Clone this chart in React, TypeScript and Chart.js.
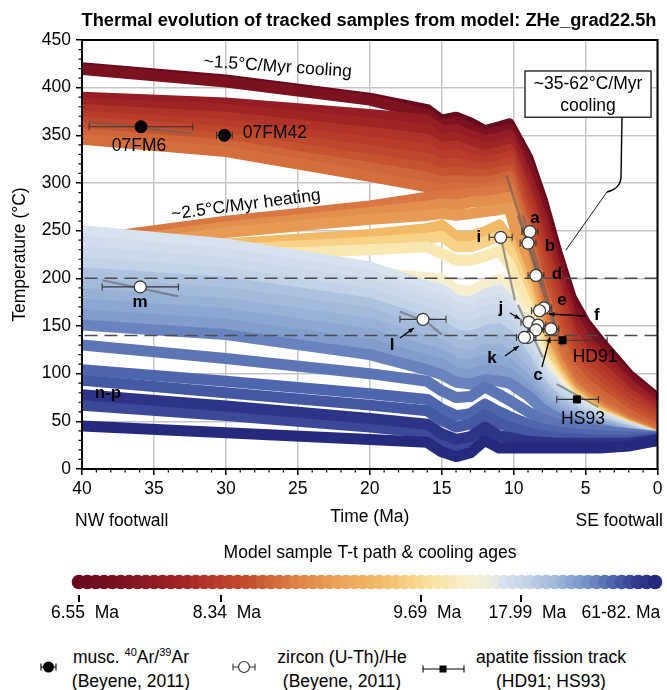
import React, { useEffect, useRef, useState } from 'react';
import { Chart, registerables } from 'chart.js';

Chart.register(...registerables);

const FONT_FAMILY = '"Liberation Sans", Arial, Helvetica, sans-serif';
const FS = 17.5;
const GRID_COLOR = '#c6c6c6';

// ---------- axes ----------
const X_MAX = 40;
const Y_MAX = 450;
const X_LABEL_STEP = 5;
const Y_LABEL_STEP = 50;
const X_MINOR_STEP = 1;
const Y_MINOR_STEP = 10;
const DASH_LEVELS = [200, 140];

// ---------- model T-t paths (°C at TIMES, Ma) ----------
const TIMES = [40, 30, 20, 16, 15, 14, 13, 12, 11, 10.3, 9, 8, 7, 6, 5, 4, 2, 0];

const PATH_T0 = [421, 408, 389, 377, 366, 369, 363, 355, 359, 362, 326, 282, 228, 180, 153, 134, 99, 74];
const PATH_T1 = [419, 406, 387, 372, 362, 364, 358, 351, 354, 357, 318, 272, 220, 172, 147, 129, 96, 71];
const PATH_U1 = [390, 384, 372, 366, 355, 356, 350, 345, 347, 350, 305, 262, 207, 161, 137, 120, 89, 66];
const PATH_U2 = [384, 377, 363, 356, 346, 348, 342, 337, 339, 342, 295, 250, 197, 152, 130, 113, 84, 62];
const PATH_U3 = [377, 369, 353, 346, 337, 339, 333, 329, 332, 335, 285, 238, 187, 143, 122, 106, 79, 58];
const PATH_U4 = [370, 361, 343, 336, 328, 330, 325, 322, 325, 328, 275, 226, 176, 134, 114, 99, 73, 54];
const PATH_U5 = [364, 354, 334, 326, 319, 321, 317, 315, 318, 321, 265, 214, 165, 125, 106, 92, 67, 50];
const PATH_U6 = [358, 347, 325, 316, 310, 312, 309, 308, 311, 314, 255, 202, 154, 116, 98, 85, 62, 46];
const PATH_U7 = [352, 340, 316, 306, 301, 303, 301, 301, 304, 307, 245, 188, 142, 107, 90, 78, 57, 42];
const PATH_U8 = [346, 333, 307, 296, 293, 295, 294, 294, 297, 300, 235, 174, 130, 98, 83, 71, 52, 38];
const PATH_H1 = [240, 260, 276, 285, 287, 287, 289, 290, 292, 294, 222, 160, 120, 92, 78, 67, 50, 37];
const PATH_H2 = [234, 254, 269, 276, 278, 277, 280, 281, 283, 285, 212, 151, 114, 88, 75, 64, 48, 36];
const PATH_H3 = [228, 248, 262, 266, 268, 266, 268, 270, 272, 274, 202, 142, 108, 84, 72, 61, 46, 35];
const PATH_Y1 = [226, 236, 246, 252, 256, 244, 244, 249, 256, 240, 190, 134, 104, 82, 70, 60, 46, 34];
const PATH_Y2 = [222, 230, 238, 242, 244, 233, 233, 238, 245, 230, 180, 126, 99, 79, 68, 58, 45, 34];
const PATH_Y3 = [218, 224, 230, 233, 226, 219, 219, 223, 229, 215, 170, 118, 95, 76, 66, 56, 44, 33];
const PATH_C1 = [228, 218, 206, 201, 199, 188, 186, 194, 199, 192, 158, 113, 92, 75, 64, 56, 44, 33];
const PATH_C2 = [222, 212, 200, 195, 193, 182, 180, 188, 193, 183, 148, 108, 89, 73, 63, 55, 43, 33];
const PATH_LB1 = [250, 236, 212, 192, 188, 177, 175, 183, 188, 176, 138, 104, 87, 74, 63, 55, 44, 34];
const PATH_LB2 = [239, 226, 203, 183, 179, 169, 167, 174, 178, 168, 132, 100, 84, 72, 61, 54, 43, 33];
const PATH_LB3 = [228, 216, 194, 174, 170, 160, 158, 165, 168, 159, 126, 96, 81, 69, 59, 52, 42, 33];
const PATH_LB4 = [217, 206, 184, 164, 160, 151, 149, 155, 158, 150, 119, 92, 77, 66, 57, 51, 41, 32];
const PATH_LB5 = [206, 196, 174, 154, 150, 141, 139, 145, 147, 140, 112, 88, 73, 63, 55, 49, 40, 32];
const PATH_LB6 = [195, 185, 164, 144, 140, 131, 129, 135, 136, 130, 105, 83, 69, 60, 53, 48, 39, 31];
const PATH_LB7 = [184, 174, 153, 134, 130, 121, 119, 125, 125, 120, 98, 78, 65, 57, 51, 46, 38, 31];
const PATH_LB8 = [173, 163, 142, 124, 120, 111, 109, 114, 114, 110, 91, 73, 61, 54, 49, 45, 37, 30];
const PATH_LB9 = [162, 152, 131, 114, 110, 101, 99, 104, 103, 100, 84, 68, 57, 51, 47, 43, 36, 30];
const PATH_LB10 = [151, 141, 120, 104, 99, 91, 89, 94, 92, 90, 77, 63, 54, 49, 45, 42, 35, 29];
const PATH_D1 = [130, 116, 100, 92, 82, 75, 76, 86, 78, 72, 60, 52, 47, 44, 42, 40, 37, 34];
const PATH_D2 = [104, 92, 79, 73, 63, 56, 58, 68, 60, 55, 47, 42, 39, 37, 36, 35, 33, 33];
const PATH_D3 = [93, 80, 67, 61, 51, 44, 47, 57, 48, 44, 38, 35, 33, 32, 31, 30, 30, 32];
const PATH_D4 = [78, 66, 53, 47, 37, 31, 34, 44, 35, 33, 29, 28, 27, 27, 27, 27, 27, 31];
const PATH_D5 = [67, 56, 44, 38, 28, 22, 25, 36, 27, 26, 24, 24, 23, 23, 23, 23, 25, 30];
const PATH_D6 = [45, 38, 31, 28, 18, 13, 17, 30, 22, 22, 22, 22, 22, 22, 22, 22, 24, 30];

// [temperatures, sample index on the colour bar]
const PATH_LIST: [number[], number][] = [
  [PATH_T0, 0], [PATH_T1, 5], [PATH_U1, 10], [PATH_U2, 12], [PATH_U3, 15], [PATH_U4, 17],
  [PATH_U5, 19], [PATH_U6, 21], [PATH_U7, 23], [PATH_U8, 24], [PATH_H1, 25], [PATH_H2, 28],
  [PATH_H3, 30], [PATH_Y1, 36], [PATH_Y2, 40], [PATH_Y3, 44], [PATH_C1, 46], [PATH_C2, 48],
  [PATH_LB1, 51], [PATH_LB2, 52], [PATH_LB3, 53], [PATH_LB4, 54], [PATH_LB5, 56], [PATH_LB6, 57],
  [PATH_LB7, 58], [PATH_LB8, 59], [PATH_LB9, 60], [PATH_LB10, 62],
  [PATH_D1, 63], [PATH_D2, 64], [PATH_D3, 65], [PATH_D4, 68], [PATH_D5, 66], [PATH_D6, 69],
];

// ---------- colour bar ----------
const SAMPLE_COUNT = 70;
const CB_TICK_POS = [0, 17, 41, 53, 64.2];
const CB_TICK_TEXT = ['6.55  Ma', '8.34  Ma', '9.69  Ma', '17.99  Ma', '61-82. Ma'];
const CB_MARK_POS = [0, 17, 41, 53];
const CMAP_POS = [0, 0.08, 0.16, 0.22, 0.3, 0.38, 0.45, 0.52, 0.58, 0.62, 0.68, 0.72, 0.735, 0.78, 0.83, 0.88, 0.93, 0.97, 1];
const CMAP_HEX = ['#680a1e', '#7e1220', '#9a2024', '#b03428', '#c4502f', '#de8246', '#eaa258', '#f2b866', '#f8d286', '#fbe4a6', '#f7f0cf', '#eeeedf', '#dae4f0', '#c4d4e8', '#a0b8da', '#7896c8', '#4c64ac', '#343c90', '#262a7c'];

// ---------- thermochronology data ----------
// zircon (U-Th)/He
const ZR_AGE = [8.87, 9.0, 8.45, 7.9, 8.2, 10.9, 8.94, 8.31, 8.45, 7.41, 9.0, 9.25, 16.3, 35.95];
const ZR_TEMP = [249, 237, 203, 169, 166, 243, 154, 151, 146, 147, 138, 138, 157, 191];
const ZR_ERR = [0.55, 0.55, 0.55, 0.55, 0.55, 0.8, 0.55, 0.55, 0.55, 0.55, 0.55, 0.55, 1.6, 2.65];
// muscovite Ar/Ar
const AR_AGE = [35.9, 30.1];
const AR_TEMP = [359, 350];
const AR_ERR = [3.6, 0.55];
// apatite fission track
const AFT_AGE = [6.6, 5.6];
const AFT_TEMP = [135, 73];
const AFT_MIN = [3.5, 4.1];
const AFT_MAX = [9.35, 7.0];

// grey model-path segments near the samples
const SEG_07FM6 = [[39.6, 364], [32.4, 352]];
const SEG_M = [[38.6, 198], [33.3, 181]];
const SEG_L = [[17.9, 165], [16.0, 154], [15.0, 141]];
const SEG_I = [[10.9, 243], [9.9, 177]];
const SEG_A = [[10.5, 308], [8.0, 190]];
const SEG_B = [[9.7, 266], [7.0, 143]];
const SEG_C = [[9.35, 266], [6.65, 128]];
const SEG_K = [[9.7, 172], [7.96, 117]];
const SEG_HS93 = [[7.0, 89], [4.1, 65]];
const GREY_SEGMENTS = [SEG_07FM6, SEG_M, SEG_L, SEG_I, SEG_A, SEG_B, SEG_C, SEG_K, SEG_HS93];

// ---------- annotation labels ----------
const BOLD_LABELS = ['a', 'b', 'd', 'e', 'f', 'i', 'j', 'k', 'c', 'l', 'm', 'n-p'];
const BOLD_LABEL_T = [8.51, 7.47, 6.99, 6.64, 4.21, 12.41, 10.88, 11.5, 8.31, 18.45, 35.97, 38.2];
const BOLD_LABEL_TEMP = [263.3, 233.9, 204.5, 177.3, 161.5, 243.4, 168.9, 116.4, 98.6, 130.1, 175.2, 79.7];
const NAME_LABELS = ['07FM6', '07FM42', 'HD91', 'HS93'];
const NAME_LABEL_T = [36.04, 26.59, 4.34, 5.18];
const NAME_LABEL_TEMP = [338.8, 352.5, 117.5, 52.4];
const ARROWS = [
  [5.04, 160.5, 7.54, 162.6],
  [10.25, 163.6, 9.56, 157.3],
  [10.6, 118.5, 9.63, 129],
  [8.03, 107, 7.47, 138.5],
  [17.9, 137.4, 16.93, 147.9],
];

const TITLE = 'Thermal evolution of tracked samples from model: ZHe_grad22.5h';

function hexToRgb(h: string) {
  const n = parseInt(h.slice(1), 16);
  return [(n >> 16) & 255, (n >> 8) & 255, n & 255];
}
function cmap(f: number) {
  for (let i = 1; i < CMAP_POS.length; i++) {
    if (f <= CMAP_POS[i] + 1e-9) {
      const u = (f - CMAP_POS[i - 1]) / (CMAP_POS[i] - CMAP_POS[i - 1]);
      const c0 = hexToRgb(CMAP_HEX[i - 1]);
      const c1 = hexToRgb(CMAP_HEX[i]);
      return 'rgb(' + c0.map((c, k) => Math.round(c + (c1[k] - c) * u)).join(',') + ')';
    }
  }
  return CMAP_HEX[CMAP_HEX.length - 1];
}
const SAMPLE_IDX = Array.from({ length: SAMPLE_COUNT }, (_, i) => i);
const SAMPLE_COLORS = SAMPLE_IDX.map((i) => cmap(i / (SAMPLE_COUNT - 1)));

const font = (size: number, bold = false) => `${bold ? 'bold ' : ''}${size}px ${FONT_FAMILY}`;

const mainDecor = {
  id: 'mainDecor',
  afterDraw(chart: any) {
    const { ctx, chartArea: a } = chart;
    const xs = chart.scales.x;
    const ys = chart.scales.y;
    const P = (t: number, T: number) => [xs.getPixelForValue(t), ys.getPixelForValue(T)];
    ctx.save();
    // minor ticks
    ctx.strokeStyle = '#000';
    ctx.lineWidth = 1.2;
    ctx.beginPath();
    for (let v = 0; v <= Y_MAX; v += Y_MINOR_STEP) {
      if (v % Y_LABEL_STEP === 0) continue;
      const py = ys.getPixelForValue(v);
      ctx.moveTo(a.left - 3.5, py);
      ctx.lineTo(a.left, py);
    }
    for (let v = 0; v <= X_MAX; v += X_MINOR_STEP) {
      if (v % X_LABEL_STEP === 0) continue;
      const px = xs.getPixelForValue(v);
      ctx.moveTo(px, a.bottom);
      ctx.lineTo(px, a.bottom + 3.5);
    }
    ctx.stroke();
    // frame
    ctx.lineWidth = 2;
    ctx.strokeRect(a.left, a.top, a.right - a.left, a.bottom - a.top);

    ctx.fillStyle = '#000';
    ctx.textAlign = 'center';
    ctx.textBaseline = 'middle';
    // title & axis titles
    ctx.font = font(18.3, true);
    ctx.fillText(TITLE, 369, 21);
    ctx.font = font(FS);
    ctx.save();
    ctx.translate(20, (a.top + a.bottom) / 2);
    ctx.rotate(-Math.PI / 2);
    ctx.fillText('Temperature (°C)', 0, 0);
    ctx.restore();
    ctx.fillText('Time (Ma)', (a.left + a.right) / 2, 517);
    ctx.textAlign = 'left';
    ctx.fillText('NW footwall', 75, 521);
    ctx.textAlign = 'right';
    ctx.fillText('SE footwall', 663, 521);

    // rotated band annotations
    const rot = (s: string, t: number, T: number, deg: number) => {
      const [px, py] = P(t, T);
      ctx.save();
      ctx.translate(px, py);
      ctx.rotate((deg * Math.PI) / 180);
      ctx.textAlign = 'center';
      ctx.textBaseline = 'middle';
      ctx.font = font(FS);
      ctx.fillText(s, 0, 0);
      ctx.restore();
    };
    rot('~1.5°C/Myr cooling', 26.4, 421.7, 4);
    rot('~2.5°C/Myr heating', 28.6, 277, -7.5);

    // boxed annotation + connector
    const [bx0, by0] = P(9.21, 417.5);
    const [bx1, by1] = P(0.45, 369);
    ctx.fillStyle = '#fff';
    ctx.fillRect(bx0, by0, bx1 - bx0, by1 - by0);
    ctx.strokeStyle = '#000';
    ctx.lineWidth = 1.2;
    ctx.strokeRect(bx0, by0, bx1 - bx0, by1 - by0);
    ctx.fillStyle = '#000';
    ctx.textAlign = 'center';
    ctx.font = font(FS);
    const [tcx] = P(4.83, 0);
    ctx.fillText('~35-62°C/Myr', tcx, P(0, 404)[1]);
    ctx.fillText('cooling', tcx, P(0, 381)[1]);
    const c0 = P(2.467, 369.2);
    const c1 = P(2.537, 305.2);
    const c2 = P(2.606, 293.7);
    const c3 = P(3.51, 290.6);
    const c4 = P(6.36, 229.7);
    ctx.lineWidth = 1.4;
    ctx.beginPath();
    ctx.moveTo(c0[0], c0[1]);
    ctx.lineTo(c1[0], c1[1]);
    ctx.quadraticCurveTo(c2[0], c2[1], c3[0], c3[1]);
    ctx.stroke();
    ctx.lineWidth = 0.9;
    ctx.beginPath();
    ctx.moveTo(c3[0], c3[1]);
    ctx.lineTo(c4[0], c4[1]);
    ctx.stroke();

    // arrows
    ctx.lineWidth = 1.3;
    for (const [t0, T0, t1, T1] of ARROWS) {
      const [x0, y0] = P(t0, T0);
      const [x1, y1] = P(t1, T1);
      ctx.beginPath();
      ctx.moveTo(x0, y0);
      ctx.lineTo(x1, y1);
      ctx.stroke();
      const ang = Math.atan2(y1 - y0, x1 - x0);
      const hl = 6;
      ctx.beginPath();
      ctx.moveTo(x1, y1);
      ctx.lineTo(x1 - hl * Math.cos(ang - 0.4), y1 - hl * Math.sin(ang - 0.4));
      ctx.lineTo(x1 - hl * Math.cos(ang + 0.4), y1 - hl * Math.sin(ang + 0.4));
      ctx.closePath();
      ctx.fill();
    }

    // labels
    ctx.textAlign = 'center';
    ctx.textBaseline = 'middle';
    ctx.font = font(17, true);
    BOLD_LABELS.forEach((s, i) => {
      const [px, py] = P(BOLD_LABEL_T[i], BOLD_LABEL_TEMP[i]);
      ctx.fillText(s, px, py);
    });
    ctx.font = font(FS);
    NAME_LABELS.forEach((s, i) => {
      const [px, py] = P(NAME_LABEL_T[i], NAME_LABEL_TEMP[i]);
      ctx.fillText(s, px, py);
    });
    ctx.restore();
  },
};

const cbDecor = {
  id: 'cbDecor',
  afterDraw(chart: any) {
    const { ctx, chartArea: a } = chart;
    const xs = chart.scales.x;
    ctx.save();
    ctx.fillStyle = '#000';
    CB_MARK_POS.forEach((v) => {
      const px = Math.round(xs.getPixelForValue(v));
      ctx.fillRect(px - 1, a.bottom, 1.6, 7);
    });
    ctx.textAlign = 'center';
    ctx.textBaseline = 'middle';
    ctx.font = font(FS);
    ctx.fillText('Model sample T-t path & cooling ages', 370, 23);
    ctx.restore();
  },
};

function errorBarDataset(lo: number, hi: number, y: number) {
  return {
    type: 'line',
    data: [{ x: lo, y }, { x: hi, y }],
    borderColor: '#333',
    borderWidth: 1.1,
    pointStyle: 'line',
    pointRotation: 90,
    pointRadius: 3.5,
    pointHoverRadius: 3.5,
    pointBorderColor: '#333',
    pointBorderWidth: 1.1,
    order: -2,
    clip: false,
  };
}

function buildMainConfig(): any {
  const datasets: any[] = [];
  // markers
  datasets.push({
    type: 'line', showLine: false,
    data: ZR_AGE.map((t, i) => ({ x: t, y: ZR_TEMP[i] })),
    pointStyle: 'circle', pointRadius: 6, pointHoverRadius: 6,
    pointBackgroundColor: '#fff', pointBorderColor: '#333', pointBorderWidth: 1.2,
    order: -3, clip: false,
  });
  datasets.push({
    type: 'line', showLine: false,
    data: AR_AGE.map((t, i) => ({ x: t, y: AR_TEMP[i] })),
    pointStyle: 'circle', pointRadius: 6, pointHoverRadius: 6,
    pointBackgroundColor: '#000', pointBorderColor: '#000', pointBorderWidth: 1,
    order: -3, clip: false,
  });
  datasets.push({
    type: 'line', showLine: false,
    data: AFT_AGE.map((t, i) => ({ x: t, y: AFT_TEMP[i] })),
    pointStyle: 'rect', pointRadius: 5, pointHoverRadius: 5,
    pointBackgroundColor: '#000', pointBorderColor: '#000', pointBorderWidth: 1,
    order: -3, clip: false,
  });
  // error bars
  ZR_AGE.forEach((t, i) => datasets.push(errorBarDataset(t - ZR_ERR[i], t + ZR_ERR[i], ZR_TEMP[i])));
  AR_AGE.forEach((t, i) => datasets.push(errorBarDataset(t - AR_ERR[i], t + AR_ERR[i], AR_TEMP[i])));
  AFT_AGE.forEach((_, i) => datasets.push(errorBarDataset(AFT_MIN[i], AFT_MAX[i], AFT_TEMP[i])));
  // dashed reference levels
  DASH_LEVELS.forEach((lvl) => datasets.push({
    type: 'line',
    data: [{ x: 0, y: lvl }, { x: X_MAX, y: lvl }],
    borderColor: '#4a4a4a', borderWidth: 1.5, borderDash: [13, 7],
    pointRadius: 0, pointHoverRadius: 0, order: -1, clip: 0,
  }));
  // grey model segments
  GREY_SEGMENTS.forEach((seg) => datasets.push({
    type: 'line',
    data: seg.map(([t, T]) => ({ x: t, y: T })),
    borderColor: 'rgba(95,95,95,0.6)', borderWidth: 2.2,
    pointRadius: 0, pointHoverRadius: 0, tension: 0, order: -0.5, clip: 0,
  }));
  // model paths
  PATH_LIST.forEach(([temps, sample]) => datasets.push({
    type: 'line',
    data: TIMES.map((t, i) => ({ x: t, y: temps[i] })),
    borderColor: SAMPLE_COLORS[sample],
    borderWidth: 11,
    pointRadius: 0,
    pointHoverRadius: 0,
    tension: 0,
    borderJoinStyle: 'round',
    borderCapStyle: 'butt',
    clip: 0,
    order: 100 - sample,
  }));

  const xTicks: number[] = [];
  for (let v = 0; v <= X_MAX; v += X_MINOR_STEP) xTicks.push(v);
  const yTicks: number[] = [];
  for (let v = 0; v <= Y_MAX; v += Y_MINOR_STEP) yTicks.push(v);

  return {
    type: 'line',
    data: { datasets },
    options: {
      animation: false,
      responsive: false,
      maintainAspectRatio: false,
      events: [],
      layout: { padding: { left: 0, right: 9.5, top: 40, bottom: 0 }, autoPadding: false },
      plugins: { legend: { display: false }, tooltip: { enabled: false }, title: { display: false } },
      scales: {
        x: {
          type: 'linear', min: 0, max: X_MAX, reverse: true,
          afterBuildTicks: (s: any) => { s.ticks = xTicks.map((v) => ({ value: v })); },
          afterFit: (s: any) => { s.height = 66; },
          ticks: {
            autoSkip: false, maxRotation: 0, minRotation: 0, padding: 4,
            font: { size: FS, family: FONT_FAMILY }, color: '#000',
            callback: (v: any) => (Number(v) % X_LABEL_STEP === 0 ? String(v) : ''),
          },
          grid: {
            color: (c: any) => (c.tick && c.tick.value % X_LABEL_STEP === 0 ? GRID_COLOR : 'rgba(0,0,0,0)'),
            lineWidth: 1.5, tickLength: 6, tickWidth: 1.5,
            tickColor: (c: any) => (c.tick && c.tick.value % X_LABEL_STEP === 0 ? '#000' : 'rgba(0,0,0,0)'),
          },
          border: { display: true, color: '#000', width: 2 },
        },
        y: {
          type: 'linear', min: 0, max: Y_MAX,
          afterBuildTicks: (s: any) => { s.ticks = yTicks.map((v) => ({ value: v })); },
          afterFit: (s: any) => { s.width = 82; },
          ticks: {
            autoSkip: false, padding: 5,
            font: { size: FS, family: FONT_FAMILY }, color: '#000',
            callback: (v: any) => (Number(v) % Y_LABEL_STEP === 0 ? String(v) : ''),
          },
          grid: {
            color: (c: any) => (c.tick && c.tick.value % Y_LABEL_STEP === 0 ? GRID_COLOR : 'rgba(0,0,0,0)'),
            lineWidth: 1.5, tickLength: 6, tickWidth: 1.5,
            tickColor: (c: any) => (c.tick && c.tick.value % Y_LABEL_STEP === 0 ? '#000' : 'rgba(0,0,0,0)'),
          },
          border: { display: true, color: '#000', width: 2 },
        },
      },
    },
    plugins: [mainDecor],
  };
}

function buildCbConfig(): any {
  return {
    type: 'scatter',
    data: {
      datasets: [{
        data: SAMPLE_IDX.map((i) => ({ x: i, y: 0 })),
        pointRadius: 7.3,
        pointHoverRadius: 7.3,
        pointBackgroundColor: SAMPLE_COLORS,
        pointBorderWidth: 0,
        clip: false,
      }],
    },
    options: {
      animation: false,
      responsive: false,
      maintainAspectRatio: false,
      events: [],
      layout: { padding: { left: 79, right: 12, top: 39, bottom: 0 }, autoPadding: false },
      plugins: { legend: { display: false }, tooltip: { enabled: false } },
      scales: {
        x: {
          type: 'linear', min: 0, max: SAMPLE_COUNT - 1,
          afterBuildTicks: (s: any) => { s.ticks = CB_TICK_POS.map((v) => ({ value: v })); },
          afterFit: (s: any) => { s.height = 35; },
          ticks: {
            autoSkip: false, maxRotation: 0, padding: 3, labelOffset: 6,
            font: { size: FS, family: FONT_FAMILY }, color: '#000',
            callback: (_v: any, i: number) => CB_TICK_TEXT[i],
          },
          grid: { drawOnChartArea: false, tickLength: 5, color: 'rgba(0,0,0,0)' },
          border: { display: false },
        },
        y: { display: false, min: -1, max: 1 },
      },
    },
    plugins: [cbDecor],
  };
}

const legendText: React.CSSProperties = {
  position: 'absolute', top: 645, lineHeight: '24px', fontSize: FS,
  textAlign: 'center', color: '#000', whiteSpace: 'nowrap', fontFamily: FONT_FAMILY,
};
const sup: React.CSSProperties = { fontSize: 11, lineHeight: 0, verticalAlign: 'super' };

export default function App() {
  const mainRef = useRef<HTMLCanvasElement>(null);
  const cbRef = useRef<HTMLCanvasElement>(null);
  const [marks, setMarks] = useState<{ x: number; y: number }[]>([]);
  useEffect(() => {
    Chart.defaults.font.family = FONT_FAMILY;
    Chart.defaults.color = '#000';
    const main = new Chart(mainRef.current as HTMLCanvasElement, buildMainConfig());
    const cb = new Chart(cbRef.current as HTMLCanvasElement, buildCbConfig());
    const xs: any = cb.scales.x;
    const bottom = cb.chartArea ? cb.chartArea.bottom : 65;
    setMarks(CB_MARK_POS.map((v) => ({ x: Math.round(xs.getPixelForValue(v)), y: bottom })));
    return () => { main.destroy(); cb.destroy(); };
  }, []);
  return (
    <div style={{ position: 'absolute', left: 0, top: 0, width: 667, height: 690, background: '#fff', fontFamily: FONT_FAMILY, overflow: 'hidden' }}>
      <canvas ref={mainRef} width={667} height={535} style={{ position: 'absolute', left: 0, top: 0, width: 667, height: 535 }} />
      <canvas ref={cbRef} width={667} height={100} style={{ position: 'absolute', left: 0, top: 530, width: 667, height: 100, zIndex: 2 }} />
      {marks.map((m, i) => (
        <div key={i} style={{ position: 'absolute', left: m.x - 1, top: 530 + m.y, width: 1.6, height: 7, background: '#000', zIndex: 3 }} />
      ))}
      {/* legend */}
      <svg style={{ position: 'absolute', left: 36, top: 659 }} width={26} height={16}>
        <line x1={5} y1={8} x2={20} y2={8} stroke="#000" strokeWidth={1.1} />
        <line x1={5} y1={4.5} x2={5} y2={11.5} stroke="#000" strokeWidth={1.1} />
        <line x1={20} y1={4.5} x2={20} y2={11.5} stroke="#000" strokeWidth={1.1} />
        <circle cx={12.5} cy={8} r={5.5} fill="#000" />
      </svg>
      <div style={{ ...legendText, left: 51, width: 160 }}>
        musc. <span style={sup}>40</span>Ar/<span style={sup}>39</span>Ar<br />(Beyene, 2011)
      </div>
      <svg style={{ position: 'absolute', left: 229, top: 659 }} width={30} height={16}>
        <line x1={4} y1={8} x2={26} y2={8} stroke="#333" strokeWidth={1.1} />
        <line x1={4} y1={4.5} x2={4} y2={11.5} stroke="#333" strokeWidth={1.1} />
        <line x1={26} y1={4.5} x2={26} y2={11.5} stroke="#333" strokeWidth={1.1} />
        <circle cx={15} cy={8} r={5.5} fill="#fff" stroke="#333" strokeWidth={1.2} />
      </svg>
      <div style={{ ...legendText, left: 262, width: 160 }}>
        zircon (U-Th)/He<br />(Beyene, 2011)
      </div>
      <svg style={{ position: 'absolute', left: 420, top: 661 }} width={48} height={16}>
        <line x1={3} y1={8} x2={44} y2={8} stroke="#000" strokeWidth={1.1} />
        <line x1={3} y1={4.5} x2={3} y2={11.5} stroke="#000" strokeWidth={1.1} />
        <line x1={44} y1={4.5} x2={44} y2={11.5} stroke="#000" strokeWidth={1.1} />
        <rect x={19.5} y={4.5} width={7} height={7} fill="#000" />
      </svg>
      <div style={{ ...legendText, left: 461, width: 180 }}>
        apatite fission track<br />(HD91; HS93)
      </div>
    </div>
  );
}
